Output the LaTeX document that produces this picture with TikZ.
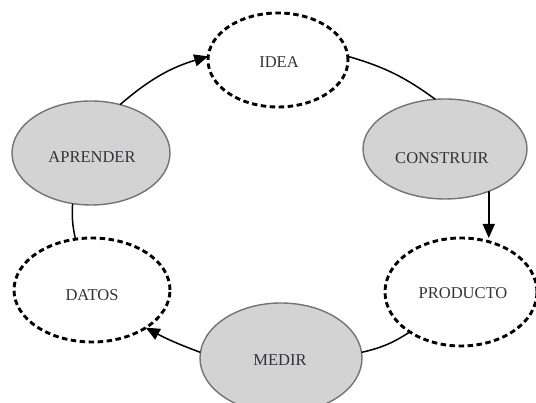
\documentclass[tikz,border=0pt]{standalone}
\usepackage{fontspec}
\setmainfont{Liberation Serif}
\usetikzlibrary{shapes.geometric,arrows.meta}
\definecolor{fillgray}{RGB}{211,211,211}
\definecolor{edgegray}{RGB}{115,115,115}
\definecolor{txtgray}{RGB}{50,50,55}
\tikzset{
  grayell/.style={ellipse, fill=fillgray, draw=edgegray, line width=1.4pt, inner sep=0pt, outer sep=0pt},
  dashell/.style={ellipse, draw=black, line width=2.9pt, dash pattern=on 5.5pt off 3.5pt, inner sep=0pt, outer sep=0pt},
  txt/.style={text=txtgray, font=\fontsize{16.5}{19}\selectfont, inner sep=0pt},
  conn/.style={draw=black, line width=1.5pt},
  arr/.style={conn, -{Triangle[length=14pt,width=12pt]}}
}
\begin{document}
\begin{tikzpicture}[x=1pt,y=1pt]
\useasboundingbox (0,0) rectangle (536,403);
\clip (0,0) rectangle (536,403);
% ellipses
\node[dashell, minimum width=140pt, minimum height=94pt] (idea) at (278,343) {};
\node[grayell, minimum width=164pt, minimum height=100pt] (construir) at (445,254) {};
\node[dashell, minimum width=152pt, minimum height=108pt] (producto) at (461,111) {};
\node[grayell, minimum width=162pt, minimum height=110pt] (medir) at (281,45) {};
\node[dashell, minimum width=156pt, minimum height=104pt] (datos) at (92,113) {};
\node[grayell, minimum width=158pt, minimum height=104pt] (aprender) at (91,250) {};
% texts
\node[txt] (tidea) at (279,341) {IDEA};
\node[txt] (tconstruir) at (442,245) {CONSTRUIR};
\node[txt] (tproducto) at (463,110) {PRODUCTO};
\node[txt] (tmedir) at (280,43) {MEDIR};
\node[txt] (tdatos) at (92,108) {DATOS};
\node[txt] (taprender) at (92,246) {APRENDER};
% connectors
\draw[arr] (aprender.59) to[bend left=12] (idea.177);
\draw[conn] (idea.3) to[bend left=10] (construir.101);
\draw[arr] (construir.-44) -- (construir.-44 |- producto.north);
\draw[conn] (producto.218) to[bend left=10] (medir.4);
\draw[arr] (medir.176) to[bend left=4] (datos.-35);
\draw[conn] (datos.108) to[bend left=8] (aprender.250);
\end{tikzpicture}
\end{document}
